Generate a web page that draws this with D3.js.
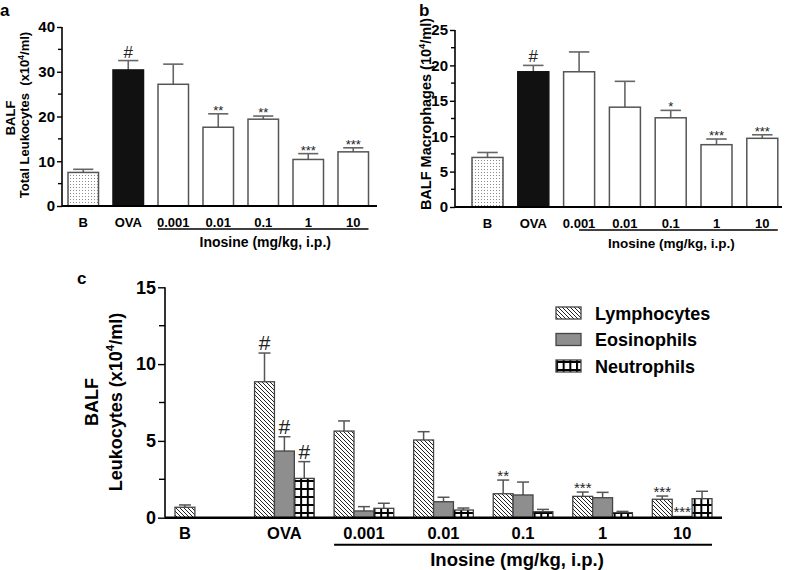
<!DOCTYPE html>
<html><head><meta charset="utf-8">
<script src="https://cdn.jsdelivr.net/npm/d3@7"></script>
<style>body{margin:0;background:#fff} text{font-family:"Liberation Sans",Arial,Helvetica,sans-serif}</style>
</head><body><svg id="chart" width="787" height="570"></svg>
<script>
// ---------- data ----------
const categories = ["B","OVA","0.001","0.01","0.1","1","10"];
// panel a: total leukocytes (x10^4/ml)
const totalLeukocytes = [7.5, 30.4, 27.2, 17.6, 19.4, 10.4, 12.1];
const totalLeukocytesErr = [0.7, 2.1, 4.5, 3.0, 0.7, 1.3, 0.9];
const totalLeukocytesSig = ["", "#", "", "**", "**", "***", "***"];
const ticksA = [0, 10, 20, 30, 40];
// panel b: macrophages (10^4/ml)
const macrophages = [7.0, 19.1, 19.1, 14.1, 12.6, 8.8, 9.7];
const macrophagesErr = [0.7, 0.9, 2.8, 3.65, 1.05, 0.8, 0.5];
const macrophagesSig = ["", "#", "", "", "*", "***", "***"];
const ticksB = [0, 5, 10, 15, 20, 25];
// panel c: leukocyte types (x10^4/ml)
const seriesNames = ["Lymphocytes", "Eosinophils", "Neutrophils"];
const lymphocytes = [0.68, 8.85, 5.64, 5.06, 1.56, 1.39, 1.2];
const lymphocytesErr = [0.15, 1.87, 0.66, 0.54, 0.89, 0.28, 0.21];
const lymphocytesSig = ["", "#", "", "", "**", "***", "***"];
const eosinophils = [null, 4.34, 0.44, 1.04, 1.48, 1.3, 0.08];
const eosinophilsErr = [null, 0.93, 0.28, 0.29, 0.84, 0.35, 0];
const eosinophilsSig = ["", "#", "", "", "", "", "***"];
const neutrophils = [null, 2.56, 0.61, 0.5, 0.39, 0.33, 1.24];
const neutrophilsErr = [null, 1.09, 0.33, 0.13, 0.15, 0.08, 0.48];
const neutrophilsSig = ["", "#", "", "", "", "", ""];
const ticksC = [0, 5, 10, 15];

// ---------- setup ----------
const svg = d3.select("#chart");
const defs = svg.append("defs");
const FONT = '"Liberation Sans",Arial,Helvetica,sans-serif';

const pd = defs.append("pattern").attr("id","dots").attr("patternUnits","userSpaceOnUse").attr("width",3).attr("height",3);
pd.append("rect").attr("width",3).attr("height",3).attr("fill","#fff");
pd.append("rect").attr("x",1).attr("y",1).attr("width",1).attr("height",1).attr("fill","#8a8a8a");

const ph = defs.append("pattern").attr("id","hatch").attr("patternUnits","userSpaceOnUse").attr("width",4).attr("height",4);
ph.append("rect").attr("width",4).attr("height",4).attr("fill","#fff");
ph.append("path").attr("d","M-1,-1 L5,5 M-1,3 L1,5 M3,-1 L5,1").attr("stroke","#222").attr("stroke-width",1);

const pg = defs.append("pattern").attr("id","grid").attr("patternUnits","userSpaceOnUse").attr("width",6.67).attr("height",8);
pg.append("rect").attr("width",6.67).attr("height",8).attr("fill","#fff");
pg.append("path").attr("d","M1,0 V8 M0,1 H6.67").attr("stroke","#000").attr("stroke-width",2);

function vlabel(g, x, y, size, pre, post) {
  const t = g.append("text").attr("transform", `translate(${x},${y}) rotate(-90)`)
    .attr("text-anchor","middle").attr("font-size",size).attr("font-weight","bold").attr("fill","#000");
  t.append("tspan").text(pre);
  if (post !== undefined) {
    t.append("tspan").attr("font-size", size*0.65).attr("dy", -size*0.42).text("4");
    t.append("tspan").attr("dy", size*0.42).text(post);
  }
  return t;
}

function yAxis(g, y, axisX, majors, minorStep, tickSize, fontSize) {
  const ax = g.append("g").attr("transform",`translate(${axisX},0)`)
    .call(d3.axisLeft(y).tickValues(majors).tickSize(tickSize).tickPadding(2).tickFormat(d3.format("d")));
  ax.select(".domain").attr("stroke","#000").attr("stroke-width",1.6).attr("d", `M0,${y(y.domain()[0])}V${y(y.domain()[1])}`);
  ax.selectAll(".tick line").attr("stroke","#000").attr("stroke-width",1.4);
  ax.selectAll(".tick text").attr("font-family",FONT).attr("font-size",fontSize).attr("font-weight","bold").attr("fill","#000");
  const minors = d3.range(y.domain()[0] + minorStep, y.domain()[1], minorStep).filter(v => !majors.includes(v));
  g.selectAll(null).data(minors).enter().append("line")
    .attr("x1", axisX - tickSize + 1).attr("x2", axisX).attr("y1", d => y(d)).attr("y2", d => y(d))
    .attr("stroke","#000").attr("stroke-width",1.4);
}

// ---------- panels a & b ----------
function panelAB(o) {
  const g = svg.append("g");
  const x = d3.scaleBand().domain(categories).range(o.xr).paddingInner(o.pad).paddingOuter(0);
  const y = d3.scaleLinear().domain([0, o.ymax]).range(o.yr);
  const data = categories.map((c,i) => ({c, v:o.vals[i], e:o.errs[i], s:o.sig[i]}));
  const bw = x.bandwidth();
  data.forEach(d => {
    const cx = x(d.c) + bw/2;
    g.append("line").attr("x1",cx).attr("x2",cx).attr("y1",y(d.v)).attr("y2",y(d.v+d.e)).attr("stroke","#666").attr("stroke-width",1.6);
    g.append("line").attr("x1",cx-bw*0.33).attr("x2",cx+bw*0.33).attr("y1",y(d.v+d.e)).attr("y2",y(d.v+d.e)).attr("stroke","#666").attr("stroke-width",1.6);
  });
  g.selectAll(null).data(data).enter().append("rect")
    .attr("x", d => x(d.c)).attr("width", bw)
    .attr("y", d => y(d.v)).attr("height", d => y(0) - y(d.v))
    .attr("fill", d => d.c === "B" ? "url(#dots)" : d.c === "OVA" ? "#111" : "#fff")
    .attr("stroke", d => d.c === "OVA" ? "#111" : "#555").attr("stroke-width",1.5);
  g.selectAll(null).data(data.filter(d => d.s)).enter().append("text")
    .attr("x", d => x(d.c) + bw/2)
    .attr("y", d => y(d.v + d.e) - (d.s === "#" ? 3 : -1))
    .attr("text-anchor","middle").attr("font-size", d => d.s === "#" ? 17 : 13).attr("fill","#222")
    .text(d => d.s);
  yAxis(g, y, o.axisX, o.ticks, o.minor, 5, 15);
  g.append("line").attr("x1",o.axisX).attr("x2",o.axisEnd).attr("y1",y(0)).attr("y2",y(0)).attr("stroke","#000").attr("stroke-width",2);
  g.selectAll(null).data(categories).enter().append("text")
    .attr("x", c => x(c) + bw/2).attr("y", y(0) + 21)
    .attr("text-anchor","middle").attr("font-size",13).attr("font-weight","bold").text(c => c);
  const i0 = x("0.001") + (o.inoFromCenter ? bw/2 : 0), i1 = x("10") + bw;
  g.append("line").attr("x1", i0).attr("x2", i1).attr("y1", y(0)+23).attr("y2", y(0)+23).attr("stroke","#000").attr("stroke-width",1.6);
  g.append("text").attr("x", (i0+i1)/2 + o.inoShift).attr("y", y(0)+41).attr("text-anchor","middle")
    .attr("font-size", o.inoSize).attr("font-weight","bold").text("Inosine (mg/kg, i.p.)");
  return {g, x, y};
}

panelAB({xr:[68, 368.5], pad:0.322, ymax:40, yr:[206, 27], vals: totalLeukocytes, errs: totalLeukocytesErr,
  sig: totalLeukocytesSig, ticks: ticksA, minor:5, axisX:62, axisEnd:377, inoFromCenter:false, inoShift:2, inoSize:14});
svg.append("text").attr("x",0).attr("y",16).attr("font-size",17).attr("font-weight","bold").text("a");
vlabel(svg, 15, 118, 13, "BALF");
vlabel(svg, 29, 115, 13, "Total Leukocytes  (x10", "/ml)").attr("xml:space","preserve");

panelAB({xr:[472, 777.8], pad:0.323, ymax:25, yr:[207, 30], vals: macrophages, errs: macrophagesErr,
  sig: macrophagesSig, ticks: ticksB, minor:2.5, axisX:455, axisEnd:782, inoFromCenter:true, inoShift:-7, inoSize:13.5});
svg.append("text").attr("x",419).attr("y",16).attr("font-size",17).attr("font-weight","bold").text("b");
vlabel(svg, 431, 114, 14.5, "BALF Macrophages (10", "/ml)");

// ---------- panel c ----------
(function(){
  const g = svg.append("g");
  const x = d3.scaleBand().domain(categories).range([175, 712]).paddingInner(0.25).paddingOuter(0);
  const xs = d3.scaleBand().domain(seriesNames).range([0, x.bandwidth()]);
  const y = d3.scaleLinear().domain([0, 15]).range([517.7, 287.3]);
  const fills = {Lymphocytes:"url(#hatch)", Eosinophils:"#8e8e8e", Neutrophils:"url(#grid)"};
  const vals = {Lymphocytes:[lymphocytes, lymphocytesErr, lymphocytesSig],
                Eosinophils:[eosinophils, eosinophilsErr, eosinophilsSig],
                Neutrophils:[neutrophils, neutrophilsErr, neutrophilsSig]};
  const data = [];
  categories.forEach((c,i) => seriesNames.forEach(s => {
    const v = vals[s][0][i];
    if (v !== null) data.push({c, s, v, e: vals[s][1][i], sig: vals[s][2][i]});
  }));
  const bw = xs.bandwidth();
  const cxOf = d => x(d.c) + xs(d.s) + bw/2;
  data.filter(d => d.e > 0).forEach(d => {
    const cx = cxOf(d);
    g.append("line").attr("x1",cx).attr("x2",cx).attr("y1",y(d.v)).attr("y2",y(d.v+d.e)).attr("stroke","#555").attr("stroke-width",1.5);
    g.append("line").attr("x1",cx-6).attr("x2",cx+6).attr("y1",y(d.v+d.e)).attr("y2",y(d.v+d.e)).attr("stroke","#555").attr("stroke-width",1.5);
  });
  g.selectAll(null).data(data).enter().append("rect")
    .attr("x", d => x(d.c) + xs(d.s)).attr("width", bw)
    .attr("y", d => y(d.v)).attr("height", d => y(0) - y(d.v))
    .attr("fill", d => fills[d.s]).attr("stroke","#444").attr("stroke-width",1.3);
  g.selectAll(null).data(data.filter(d => d.sig)).enter().append("text")
    .attr("x", cxOf).attr("y", d => y(d.v + d.e) - (d.sig === "#" ? 3 : -1))
    .attr("text-anchor","middle").attr("font-size", d => d.sig === "#" ? 21 : 15).attr("fill","#222")
    .text(d => d.sig);
  yAxis(g, y, 165, ticksC, 2.5, 7, 18);
  g.append("line").attr("x1",165).attr("x2",722).attr("y1",y(0)).attr("y2",y(0)).attr("stroke","#000").attr("stroke-width",2.5);
  g.selectAll(null).data(categories).enter().append("text")
    .attr("x", c => { const n = data.filter(d => d.c === c).length; return n === 1 ? x(c) + bw/2 : x(c) + x.bandwidth()/2; })
    .attr("y", y(0) + 21).attr("text-anchor","middle").attr("font-size",16.5).attr("font-weight","bold").text(c => c);
  const i0 = x("0.001"), i1 = x("10") + x.bandwidth();
  g.append("line").attr("x1", i0).attr("x2", i1).attr("y1", y(0)+27).attr("y2", y(0)+27).attr("stroke","#000").attr("stroke-width",2);
  g.append("text").attr("x", (i0+i1)/2 - 6).attr("y", y(0)+48).attr("text-anchor","middle")
    .attr("font-size",18.5).attr("font-weight","bold").text("Inosine (mg/kg, i.p.)");
  const lg = g.append("g").attr("transform","translate(556,313)");
  seriesNames.forEach((s,i) => {
    lg.append("rect").attr("x",0).attr("y", i*26.5 - 6).attr("width",25).attr("height",12)
      .attr("fill", fills[s]).attr("stroke","#444").attr("stroke-width",1.3);
    lg.append("text").attr("x",39).attr("y", i*26.5 + 6.5).attr("font-size",18).attr("font-weight","bold").text(s);
  });
})();
svg.append("text").attr("x",77).attr("y",284).attr("font-size",17).attr("font-weight","bold").text("c");
vlabel(svg, 98, 402, 18, "BALF");
vlabel(svg, 122, 402, 18, "Leukocytes (x10", "/ml)");
</script></body></html>
